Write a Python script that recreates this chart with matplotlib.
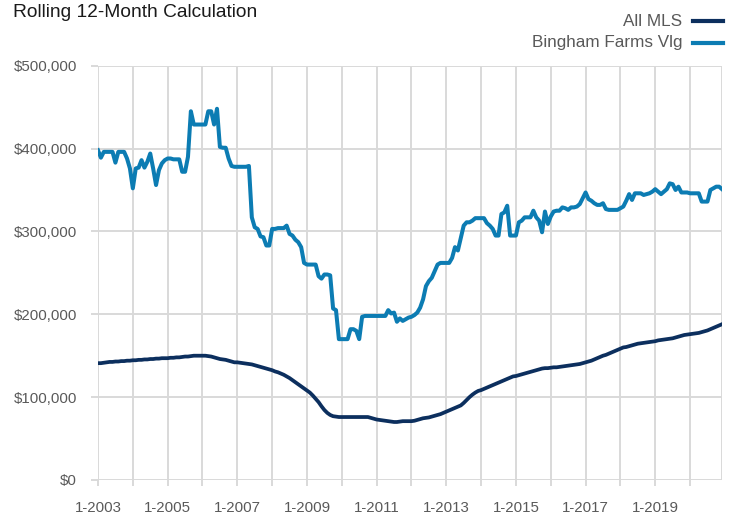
import matplotlib
matplotlib.use('Agg')
import matplotlib.pyplot as plt
from matplotlib import font_manager as fm
from matplotlib.lines import Line2D
from matplotlib.ticker import FuncFormatter

# monthly values, Jan 2003 .. Dec 2020, in thousands of dollars
start_year = 2003
all_mls = [
    141, 141, 141.5, 142, 142.5, 142.5, 143, 143, 143.5, 143.5, 144, 144,            # 2003
    144.5, 144.5, 145, 145, 145.5, 145.5, 146, 146, 146.5, 146.5, 147, 147,          # 2004
    147, 147.5, 147.5, 148, 148, 148.5, 149, 149, 149.5, 150, 150, 150,              # 2005
    150, 150, 149.5, 149, 148, 147, 146, 145.5, 145, 144, 143, 142,                  # 2006
    142, 141.5, 141, 140.5, 140, 139.5, 138.5, 137.5, 136.5, 135.5, 134.5, 133.5,    # 2007
    132.5, 131, 130, 128.5, 127, 125, 123, 120.5, 118, 115.5, 113, 110.5,            # 2008
    108, 105.5, 102, 98, 94, 89, 84.5, 81, 78.5, 77, 76.5, 76,                       # 2009
    76, 76, 76, 76, 76, 76, 76, 76, 76, 76, 75, 74,                                  # 2010
    73, 72.5, 72, 71.5, 71, 70.5, 70, 70, 70.5, 71, 71, 71,                          # 2011
    71, 71.5, 72.5, 73.5, 74.5, 75, 75.5, 76.5, 77.5, 78.5, 79.5, 81,                # 2012
    82.5, 84, 85.5, 87, 88.5, 90, 93, 96.5, 100, 103, 105.5, 107.5,                  # 2013
    108.5, 110, 111.5, 113, 114.5, 116, 117.5, 119, 120.5, 122, 123.5, 125,          # 2014
    125.5, 126.5, 127.5, 128.5, 129.5, 130.5, 131.5, 132.5, 133.5, 134.5, 135, 135,  # 2015
    135.5, 136, 136, 136.5, 137, 137.5, 138, 138.5, 139, 139.5, 140, 141,            # 2016
    142, 143, 144, 145.5, 147, 148.5, 150, 151, 152.5, 154, 155.5, 157,              # 2017
    158.5, 160, 160.5, 161.5, 162.5, 163.5, 164.5, 165, 165.5, 166, 166.5, 167,      # 2018
    167.5, 168.5, 169, 169.5, 170, 170.5, 171, 172, 173, 174, 175, 175.5,            # 2019
    176, 176.5, 177, 177.5, 178.5, 179.5, 180.5, 182, 183.5, 185, 186.5, 188,        # 2020
]
bingham = [
    398, 389, 396, 396, 396, 396, 383, 396, 396, 396, 388, 376,   # 2003
    352, 376, 377, 386, 377, 384, 394, 376, 356, 374, 382, 386,   # 2004
    388, 388, 387, 387, 387, 372, 372, 390, 445, 429, 429, 429,   # 2005
    429, 429, 445, 445, 429, 448, 402, 401, 401, 388, 379, 378,   # 2006
    378, 378, 378, 378, 379, 317, 305, 303, 294, 293, 283, 283,   # 2007
    303, 303, 304, 304, 304, 307, 297, 295, 290, 287, 281, 262,   # 2008
    260, 260, 260, 260, 246, 243, 248, 248, 247, 207, 205, 170,   # 2009
    170, 170, 170, 182, 182, 180, 170, 197, 198, 198, 198, 198,   # 2010
    198, 198, 198, 198, 205, 201, 202, 191, 195, 192, 194, 196,   # 2011
    197, 199, 202, 208, 218, 234, 240, 244, 252, 260, 262, 262,   # 2012
    262, 262, 268, 281, 277, 292, 307, 311, 311, 313, 316, 316,   # 2013
    316, 316, 310, 307, 303, 295, 295, 321, 323, 331, 295, 295,   # 2014
    295, 311, 313, 317, 317, 317, 325, 317, 313, 299, 324, 309,   # 2015
    318, 324, 325, 325, 329, 328, 326, 329, 329, 330, 333, 340,   # 2016
    347, 339, 337, 334, 332, 332, 334, 327, 326, 326, 326, 326,   # 2017
    328, 330, 337, 345, 338, 346, 346, 346, 344, 345, 346, 348,   # 2018
    351, 348, 345, 348, 351, 358, 357, 350, 354, 347, 347, 347,   # 2019
    346, 346, 346, 346, 336, 336, 336, 350, 352, 354, 354, 351,   # 2020
]
series_names = ['All MLS', 'Bingham Farms Vlg']
y_ticks = [0, 100000, 200000, 300000, 400000, 500000]

c_mls = '#0c2f5e'
c_bing = '#0c7cb3'
c_grid = '#d9d9d9'
c_text = '#595959'

names = {f.name for f in fm.fontManager.ttflist}
if 'Liberation Sans Narrow' in names:
    fam = 'Liberation Sans Narrow'
    fs_title, fs_leg, fs_tick = 16, 14.5, 12.8
else:
    fam = 'Liberation Sans'
    fs_title, fs_leg, fs_tick = 13.8, 12.3, 10.8
plt.rcParams['font.family'] = [fam, 'DejaVu Sans']

W, H = 732, 515
fig = plt.figure(figsize=(W / 100, H / 100), dpi=100)
ax = fig.add_axes([98 / W, (H - 480) / H, 624 / W, (480 - 65.7) / H])

n = len(all_mls)
x = list(range(n))
ax.plot(x, [v * 1000 for v in bingham], color=c_bing, lw=2.9, zorder=3,
        solid_joinstyle='round')
ax.plot(x, [v * 1000 for v in all_mls], color=c_mls, lw=2.7, zorder=4,
        solid_joinstyle='round')

ax.set_xlim(0, n - 1)
ax.set_ylim(0, 500000)
year_ticks = list(range(0, n, 12))
ax.set_xticks(year_ticks)
ax.set_xticklabels([f'1-{start_year + k}' if k % 2 == 0 else '' for k in range(len(year_ticks))])
ax.set_yticks(y_ticks)
ax.yaxis.set_major_formatter(FuncFormatter(lambda v, p: f'${v:,.0f}'))

ax.grid(True, color=c_grid, lw=1.4, zorder=0)
ax.axvline(n - 1, color=c_grid, lw=1.4, zorder=0)
for s in ax.spines.values():
    s.set_visible(False)
ax.tick_params(axis='y', length=5, width=1.4, color=c_grid, labelcolor=c_text,
               labelsize=fs_tick, pad=10)
ax.tick_params(axis='x', length=4.3, width=1.4, color=c_grid, labelcolor=c_text,
               labelsize=fs_tick, pad=11)

fig.text(13 / W, 1 - 4 / H, 'Rolling 12-Month Calculation', fontsize=fs_title,
         color='#1a1a1a', ha='left', va='top')

# legend at top right
leg_rows = [(26, 20.7, c_mls), (47.5, 42.7, c_bing)]
for name, (base, ly, col) in zip(series_names, leg_rows):
    fig.text(682 / W, 1 - base / H, name, fontsize=fs_leg, color=c_text,
             ha='right', va='baseline')
    fig.add_artist(Line2D([693 / W, 723 / W], [1 - ly / H, 1 - ly / H],
                          transform=fig.transFigure, color=col, lw=3))

fig.savefig('out.png', dpi=100)
